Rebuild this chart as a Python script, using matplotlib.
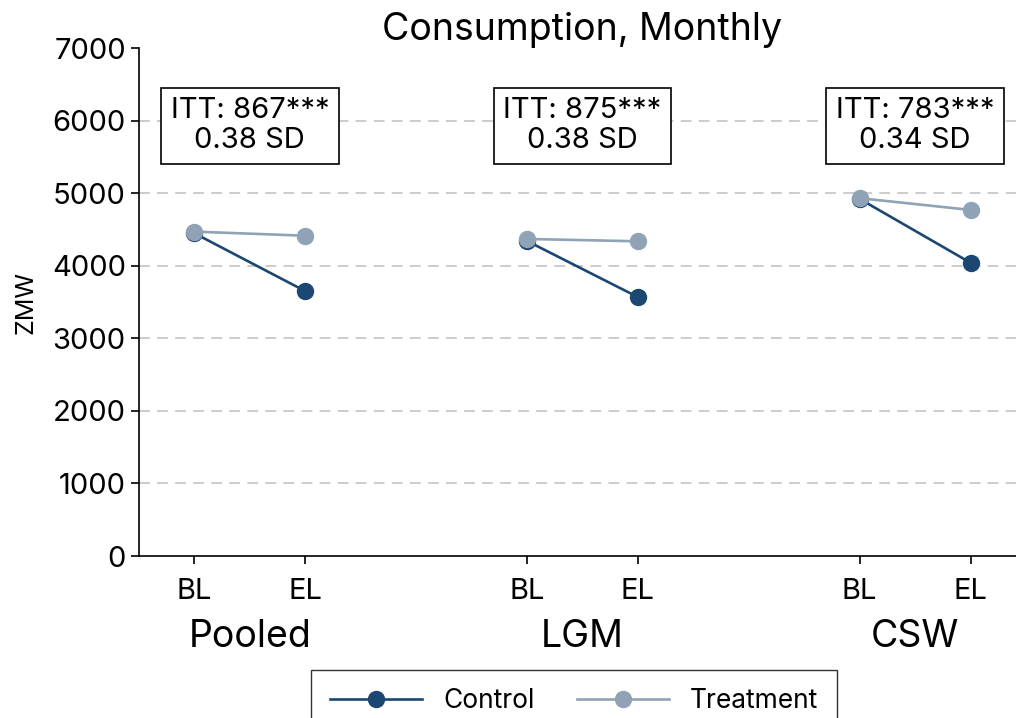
import numpy as np
import matplotlib
matplotlib.use("Agg")
from matplotlib import pyplot as plt

plt.rcParams['font.family'] = ['Inter', 'DejaVu Sans']

groups = ['Pooled', 'LGM', 'CSW']
rounds = ['BL', 'EL']
control = [[4447, 3650], [4341, 3568], [4921, 4041]]
treatment = [[4470, 4414], [4369, 4337], [4931, 4769]]
itt = ['867***', '875***', '783***']
sd = ['0.38', '0.38', '0.34']

c_col = '#1b4772'
t_col = '#8fa2b6'

fig = plt.figure(figsize=(10.16, 7.18), dpi=100)
ax = fig.add_axes([0.1368, 0.2256, 0.873, 0.7075])

for i, g in enumerate(groups):
    xs = [3 * i + 1, 3 * i + 2]
    ax.plot(xs, control[i], color=c_col, lw=1.9, marker='o', ms=11.5,
            label='Control' if i == 0 else None, zorder=3)
    ax.plot(xs, treatment[i], color=t_col, lw=1.9, marker='o', ms=11.5,
            label='Treatment' if i == 0 else None, zorder=4)
    ax.text(np.mean(xs), 5930, 'ITT: %s\n%s SD' % (itt[i], sd[i]),
            ha='center', va='center', fontsize=21, linespacing=1.12,
            bbox=dict(boxstyle='square,pad=0.33', fc='white', ec='black', lw=1.2),
            zorder=5)
    ax.text(np.mean(xs), -0.16, g, transform=ax.get_xaxis_transform(),
            ha='center', va='center', fontsize=27)

for y in range(1000, 7000, 1000):
    ax.axhline(y, color='#c8c8c8', lw=1.3, ls=(0, (6, 4)), zorder=1)

ax.set_xlim(0.5, 8.5)
ax.set_ylim(0, 7000)
ax.set_xticks([1, 2, 4, 5, 7, 8])
ax.set_xticklabels(rounds * 3)
ax.set_yticks(range(0, 7001, 1000))
ax.tick_params(labelsize=21, length=6, width=1.2)
ax.tick_params(axis='x', pad=10)
ax.spines['top'].set_visible(False)
ax.spines['right'].set_visible(False)
ax.spines['left'].set_linewidth(1.2)
ax.spines['bottom'].set_linewidth(1.2)
ax.set_ylabel('ZMW', fontsize=18, labelpad=10)
ax.set_title('Consumption, Monthly', fontsize=27, pad=6)

fig.legend(loc='upper center', bbox_to_anchor=(574 / 1016, 1 - 670 / 718),
           ncol=2, fontsize=19, frameon=True, fancybox=False, edgecolor='black',
           columnspacing=1.6, handlelength=3.5, borderpad=0.7, borderaxespad=0)

fig.savefig('out.png', dpi=100)
